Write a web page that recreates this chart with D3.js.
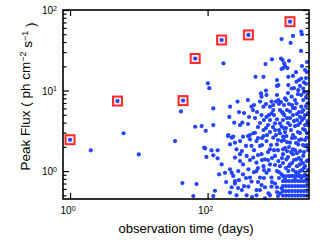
<!DOCTYPE html>
<html>
<head>
<meta charset="utf-8">
<script src="https://cdn.jsdelivr.net/npm/d3@7"></script>
<style>
  body { margin: 0; background: #fff; }
  text { font-family: "Liberation Sans", Arial, Helvetica, sans-serif; fill: #000; }
</style>
</head>
<body>
<div class="chart"></div>
<script>
// flares marked with a red square (days, flux)
const flareDays = [1.0, 4.9, 44, 66, 160, 392, 1577]
const flareFlux = [2.45, 7.4, 7.5, 25, 42.4, 49, 71.6]

// all other detections
const obsDays = [
  2.0, 6.0, 10, 33.6, 41, 43, 62, 66, 69,
  82, 94, 92, 96, 101, 106, 121, 121, 89, 114, 140, 121, 140, 160, 147, 179, 128, 121,
  170, 198, 212, 207, 212, 224, 212, 224, 212, 224, 200,
  236, 244, 250, 250, 236, 250, 250, 263, 272, 279, 286, 296, 296, 296, 296, 263, 315, 315,
  320, 327, 327, 327, 339, 370, 370, 385, 387, 387, 392, 392, 400, 413, 413, 413,
  435, 435, 435, 457, 460, 460, 473, 489, 497, 514, 514, 514, 514, 514,
  523, 540, 578, 578, 578, 578, 597, 608, 608, 608, 608, 650, 650, 650, 650, 650,
  706, 683, 683, 695, 706, 718, 718, 718, 718, 755, 768, 780, 807, 807, 807, 807, 807,
  849, 849, 849, 849, 863, 900, 900, 900, 955, 955, 955, 955, 987, 1020, 1020, 1020,
  1070, 1020, 1020, 1020, 1020, 1070, 1070, 1128, 1128, 1128, 1128,
  1167, 1190, 1190, 1206, 1190, 1190, 1190, 1190, 1230, 1250, 1250, 1250, 1250, 1250,
  1300, 1300, 1334, 1334, 1334, 1380, 1400, 1400, 1400, 1426, 1450, 1475, 1490, 1490, 1490,
  1525, 1525, 1577, 1577, 1577, 1610, 1577, 1630, 1670, 1670, 1670, 1740, 1740, 1740, 1740, 1740,
  1800, 1865, 1865, 1865, 1865, 1865, 1960, 1960, 1960, 1993, 2060, 2060, 2080, 2080, 2080,
  2203, 2203, 2203, 2203, 2278, 2300, 2356, 2300, 2300, 2300, 2300, 2300,
  2436, 2460, 2460, 2460, 2460, 2518, 2518, 2606, 2606, 2606, 2606, 2694, 2694, 2694,
  2760, 2760, 2760, 2786, 2786, 2786, 2880, 2880, 2830,
  1290, 1426, 1686, 2131, 2606, 1247, 1577, 2356, 1334, 1743, 2203, 1426, 1928, 2436,
  1334, 1630, 1993, 2518, 1475, 1802, 2278, 1247, 1993, 2518, 1379, 1743, 2203, 1091,
  923, 863, 755, 618, 540, 660, 780, 618, 730, 892, 1055, 1055, 660, 540, 473, 413, 362,
  489, 1091, 1091, 1475, 1802, 2203, 2694, 2356, 1928, 863, 1055, 578, 442, 339, 277,
  1290, 1525, 1865, 2131, 2606, 2880, 2880, 2880, 2356, 1928, 1525, 1206, 1091, 955,
  755, 660, 835, 987, 1290, 1686, 2061, 2606, 2880, 2880, 2518, 1743, 1577, 1167, 923,
  706, 618, 540, 473, 362, 286, 186, 540, 683, 807, 1020, 1128, 1426, 1686, 2131, 2436,
  2786, 2356, 1993, 2131, 2606,
  1247, 1379, 1525, 1686, 1865, 2061, 2278, 2518, 2786,
  1247, 1379, 1525, 1686, 1865, 2061, 2278, 2518, 2786,
  1247, 1379, 1525, 1686, 1865, 2061, 2278, 2518, 2786,
  1247, 1379, 1525, 1686, 1865, 2061, 2278, 2518, 2786,
  1247, 1379, 1525, 1686, 1865, 2061, 2278, 2518, 2786
]
const peakFlux = [
  1.81, 2.95, 1.61, 2.36, 5.5, 0.71, 0.49, 3.55, 0.69,
  3.62, 3.16, 1.91, 1.5, 12.3, 10.7, 6.0, 3.73, 1.95, 1.81, 1.81, 1.57, 1.44, 1.21, 0.91, 0.95, 0.57, 0.49,
  21.7, 2.72, 6.3, 4.7, 2.14, 2.6, 1.05, 0.95, 0.54, 0.63, 2.8,
  2.67, 3.99, 2.25, 1.47, 0.87, 0.75, 0.70, 0.50, 7.3, 1.0, 5.4, 3.73, 2.36, 1.62, 1.33, 1.86, 1.77, 0.58,
  3.99, 2.67, 1.21, 0.91, 5.25, 1.54, 0.50, 7.62, 3.84, 2.72, 1.05, 0.64, 4.69, 2.8, 2.48, 0.83,
  6.3, 2.05, 0.74, 5.72, 2.95, 1.47, 6.6, 2.99, 14.8, 2.36, 1.27, 1.0, 0.58, 0.50,
  5.41, 3.52, 7.3, 3.95, 2.05, 0.83, 9.2, 8.4, 4.96, 1.62, 0.67, 14.8, 6.3, 2.72, 3.23, 1.15,
  6.8, 1.40, 0.46, 21.3, 10.0, 8.8, 4.7, 2.36, 0.95, 3.73, 0.53, 4.96, 6.3, 4.30, 3.05, 1.86, 1.21,
  7.3, 5.2, 0.83, 0.64, 24.4, 6.6, 5.72, 2.6, 3.9, 3.23, 1.54, 0.70, 7.3, 13.5, 11.4, 8.8,
  7.6, 4.4, 2.14, 1.0, 0.55, 11.7, 1.33, 5.72, 3.9, 2.95, 1.15,
  25, 43.6, 18.5, 5.41, 3.57, 2.36, 0.91, 0.61, 23.9, 19, 5.2, 2.67, 1.86, 1.62,
  21.7, 4.96, 20.1, 8.0, 0.79, 3.42, 7.62, 2.72, 1.40, 4.55, 19, 3.95, 14.8, 11.7, 1.0,
  23.4, 6.8, 5.48, 2.25, 1.21, 39, 71.6, 3.23, 10.6, 8.4, 0.87, 47.6, 15.2, 4.96, 1.86, 1.62,
  4.18, 7.62, 6.06, 3.62, 2.6, 0.79, 12.9, 6.9, 1.40, 4.30, 9.0, 3.05, 10.1, 2.14, 0.91,
  4.7, 3.95, 1.77, 1.21, 31, 54, 50, 14.1, 8.8, 6.3, 2.47, 0.83,
  3.33, 10.6, 7.62, 5.72, 1.54, 12.6, 4.55, 3.73, 2.05, 1.15, 0.91, 12.1, 8.3, 6.4,
  2.6, 1.33, 0.79, 16.9, 22.6, 2.97, 9.55, 5.25, 4.18,
  6.6, 5.72, 6.6, 5.41, 4.96, 4.30, 3.73, 4.30, 3.05, 2.80, 2.97, 2.29, 2.23, 2.10,
  1.93, 1.72, 1.67, 1.72, 1.49, 1.37, 1.37, 1.26, 1.15, 1.09, 1.09, 1.03, 1.0, 0.82,
  1.82, 1.45, 1.72, 1.37, 1.09, 0.82, 1.03, 2.10, 2.80, 3.52, 2.43, 1.82, 4.30, 2.57, 1.82, 1.37, 2.05,
  4.55, 3.23, 6.8, 9.3, 10.7, 11.4, 14.3, 20.1, 16.9, 0.73, 0.49, 0.58, 0.476, 0.65, 0.615,
  2.43, 1.99, 1.82, 2.43, 2.43, 1.82, 1.37, 1.03, 1.03, 0.97, 1.15, 1.45, 0.97, 1.19,
  1.37, 1.03, 2.10, 2.80, 3.42, 2.57, 3.73, 3.23, 3.73, 7.0, 9.55, 6.06, 4.55, 7.2, 4.96,
  3.42, 2.57, 1.58, 0.97, 0.82, 0.77, 0.73, 0.73, 0.63, 0.50, 0.63, 0.53, 1.77, 1.26, 1.45, 1.26,
  2.10, 5.41, 5.11, 13.5, 18.0,
  0.867, 0.867, 0.867, 0.867, 0.867, 0.867, 0.867, 0.867, 0.867,
  0.752, 0.752, 0.752, 0.752, 0.752, 0.752, 0.752, 0.752, 0.752,
  0.651, 0.651, 0.651, 0.651, 0.651, 0.651, 0.651, 0.651, 0.651,
  0.565, 0.565, 0.565, 0.565, 0.565, 0.565, 0.565, 0.565, 0.565,
  0.497, 0.497, 0.497, 0.497, 0.497, 0.497, 0.497, 0.497, 0.497
]

const xTicks = [1, 100]
const yTicks = [1, 10, 100]
const yMinor = [0.5, 0.6, 0.7, 0.8, 0.9, 2, 3, 4, 5, 6, 7, 8, 9, 20, 30, 40, 50, 60, 70, 80, 90]

const margin = {top: 10, right: 12, bottom: 43, left: 63},
    width = 321 - margin.left - margin.right,
    height = 242 - margin.top - margin.bottom

const x = d3.scaleLog().domain([0.79, 2980]).range([0, width])
const y = d3.scaleLog().domain([0.45, 100]).range([height, 0])

const svg = d3.select(".chart").append("svg")
    .attr("width", width + margin.left + margin.right)
    .attr("height", height + margin.top + margin.bottom)
  .append("g")
    .attr("transform", "translate(" + margin.left + "," + margin.top + ")")

const blue = "#2344ff"

// scatter of all detections
const points = obsDays.map((d, i) => ({day: d, flux: peakFlux[i]}))
svg.append("g").selectAll("circle")
    .data(points)
    .enter().append("circle")
    .attr("cx", d => x(d.day))
    .attr("cy", d => y(d.flux))
    .attr("r", 2.1)
    .style("fill", blue)

// highlighted flares: blue dot inside a red square
const flares = flareDays.map((d, i) => ({day: d, flux: flareFlux[i]}))
const fl = svg.append("g").selectAll("g")
    .data(flares)
    .enter().append("g")
    .attr("transform", d => "translate(" + x(d.day) + "," + y(d.flux) + ")")
fl.append("rect")
    .attr("x", -4.5).attr("y", -4.5)
    .attr("width", 9).attr("height", 9)
    .style("fill", "#ffe8e8")
    .style("stroke", "#ff2a2a")
    .style("stroke-width", 2)
fl.append("circle")
    .attr("r", 2.1)
    .style("fill", blue)

// ticks (inward) on all four sides
function ticks(axis, vals, size) {
  return axis.tickValues(vals).tickSize(-size).tickFormat("")
}
const noDomain = g => g.select(".domain").remove()

svg.append("g").call(ticks(d3.axisLeft(y), yTicks, 6)).call(noDomain)
svg.append("g").call(ticks(d3.axisLeft(y), yMinor, 3.5)).call(noDomain)
svg.append("g").attr("transform", "translate(" + width + ",0)")
    .call(ticks(d3.axisRight(y), yTicks, 6)).call(noDomain)
svg.append("g").attr("transform", "translate(" + width + ",0)")
    .call(ticks(d3.axisRight(y), yMinor, 3.5)).call(noDomain)
svg.append("g").attr("transform", "translate(0," + height + ")")
    .call(ticks(d3.axisBottom(x), xTicks, 6)).call(noDomain)
svg.append("g")
    .call(ticks(d3.axisTop(x), xTicks, 6)).call(noDomain)
svg.selectAll(".tick line").style("stroke", "#000").style("stroke-width", 1.2)

// frame
svg.append("rect")
    .attr("width", width).attr("height", height)
    .style("fill", "none")
    .style("stroke", "#000")
    .style("stroke-width", 1.6)

// power-of-ten labels
function powLabel(sel, v) {
  sel.text("10").append("tspan")
      .attr("dy", "-0.5em")
      .style("font-size", "7px")
      .text(Math.round(Math.log10(v)))
}
svg.append("g").selectAll("text")
    .data(xTicks)
    .enter().append("text")
    .attr("x", d => x(d) - 2)
    .attr("y", height + 15)
    .style("font-size", "10px")
    .style("text-anchor", "middle")
    .each(function(d) { powLabel(d3.select(this), d) })
svg.append("g").selectAll("text")
    .data(yTicks)
    .enter().append("text")
    .attr("x", -6)
    .attr("y", d => y(d) + 4)
    .style("font-size", "10px")
    .style("text-anchor", "end")
    .each(function(d) { powLabel(d3.select(this), d) })

// axis titles
svg.append("text")
    .attr("x", width / 2)
    .attr("y", height + 34)
    .style("font-size", "13px")
    .style("text-anchor", "middle")
    .text("observation time (days)")

const yl = svg.append("text")
    .attr("transform", "translate(-33," + (height / 2 - 8) + ") rotate(-90)")
    .style("font-size", "13.5px")
    .style("text-anchor", "middle")
yl.append("tspan").text("Peak Flux ( ph cm")
yl.append("tspan").attr("dy", "-0.5em").style("font-size", "9px").text("\u22122")
yl.append("tspan").attr("dy", "0.5em").text(" s")
yl.append("tspan").attr("dy", "-0.5em").style("font-size", "9px").text("\u22121")
yl.append("tspan").attr("dy", "0.5em").text(" )")
</script>
</body>
</html>
